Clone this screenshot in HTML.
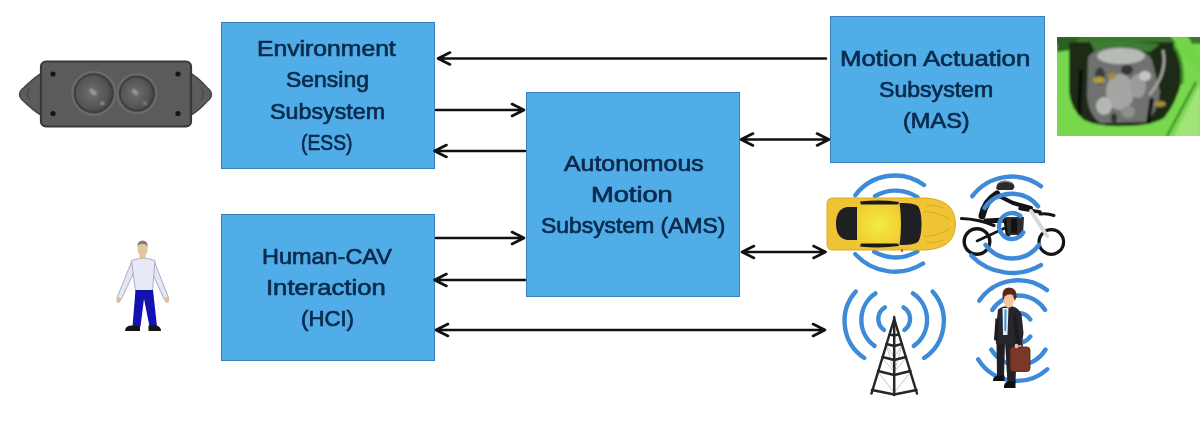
<!DOCTYPE html>
<html><head><meta charset="utf-8">
<style>
html,body{margin:0;padding:0;background:#fff;}
body{width:1200px;height:426px;position:relative;overflow:hidden;font-family:"Liberation Sans",sans-serif;}
.box{position:absolute;background:#50ade8;border:1px solid #3a80c0;box-sizing:border-box;}
.t{position:absolute;font-size:22.5px;line-height:22.5px;color:#0b2a4c;-webkit-text-stroke:0.7px #0b2a4c;white-space:nowrap;transform-origin:0 0;}
svg{position:absolute;left:0;top:0;}
</style></head><body>
<div class="box" style="left:221px;top:22px;width:214px;height:147px"></div>
<div class="box" style="left:221px;top:214px;width:214px;height:147px"></div>
<div class="box" style="left:526px;top:92px;width:214px;height:205px"></div>
<div class="box" style="left:830px;top:16px;width:215px;height:147px"></div>
<div class="t" style="left:256.6px;top:38px;transform:scaleX(1.0984)">Environment</div>
<div class="t" style="left:285.88px;top:69px;transform:scaleX(1.0203)">Sensing</div>
<div class="t" style="left:269.97px;top:101px;transform:scaleX(1.0339)">Subsystem</div>
<div class="t" style="left:301.14px;top:132px;transform:scaleX(0.8569)">(ESS)</div>
<div class="t" style="left:261.71px;top:246px;transform:scaleX(1.0426)">Human-CAV</div>
<div class="t" style="left:266.12px;top:277px;transform:scaleX(1.1392)">Interaction</div>
<div class="t" style="left:301.01px;top:308px;transform:scaleX(0.9863)">(HCI)</div>
<div class="t" style="left:563.6px;top:153px;transform:scaleX(1.1056)">Autonomous</div>
<div class="t" style="left:590.88px;top:184px;transform:scaleX(1.2109)">Motion</div>
<div class="t" style="left:540.58px;top:215px;transform:scaleX(1.0173)">Subsystem (AMS)</div>
<div class="t" style="left:839.91px;top:48px;transform:scaleX(1.1436)">Motion Actuation</div>
<div class="t" style="left:879.17px;top:79px;transform:scaleX(1.0257)">Subsystem</div>
<div class="t" style="left:903.15px;top:110px;transform:scaleX(1.0459)">(MAS)</div>
<svg width="1200" height="426" viewBox="0 0 1200 426">
<defs>
<filter id="soft" x="-5%" y="-5%" width="110%" height="110%"><feGaussianBlur stdDeviation="0.9"/></filter>
<radialGradient id="lens1" cx="0.45" cy="0.48" r="0.55"><stop offset="0" stop-color="#6e6e6e"/><stop offset="0.75" stop-color="#555"/><stop offset="1" stop-color="#424242"/></radialGradient>
<filter id="blur1" x="-50%" y="-50%" width="200%" height="200%"><feGaussianBlur stdDeviation="1.1"/></filter>
<radialGradient id="roof" cx="0.5" cy="0.5" r="0.6"><stop offset="0" stop-color="#f4ec40"/><stop offset="1" stop-color="#f0cc30"/></radialGradient>
<linearGradient id="eng" x1="0" y1="0" x2="1" y2="1"><stop offset="0" stop-color="#7fde5a"/><stop offset="1" stop-color="#5cc63c"/></linearGradient>
</defs>
<!-- ===== sensor ===== -->
<g>
<path d="M43 72.5C36 76 30 82 24 87.5Q19.5 91 19.5 94.5Q19.5 98 24 101.5C30 107 36 113 43 116Z" fill="#5c5c5c" stroke="#444" stroke-width="1.4" stroke-linejoin="round"/>
<path d="M189 72.5C196 76 202 82 207 87.5Q211.5 91 211.5 94.5Q211.5 98 207 101.5C202 107 196 113 189 116Z" fill="#5c5c5c" stroke="#444" stroke-width="1.4" stroke-linejoin="round"/>
<path d="M30 88Q25 94 30 100" stroke="#4c4c4c" stroke-width="1.5" fill="none"/>
<path d="M201 88Q206 94 201 100" stroke="#4c4c4c" stroke-width="1.5" fill="none"/>
<rect x="41" y="61.5" width="150" height="65" rx="5" fill="#5b5b5b" stroke="#383838" stroke-width="2.2"/>
<circle cx="93.8" cy="93.3" r="21.6" fill="none" stroke="#6a6a6a" stroke-width="2"/>
<circle cx="136.9" cy="93.6" r="19.6" fill="none" stroke="#6a6a6a" stroke-width="2"/>
<circle cx="93.8" cy="93.3" r="19" fill="url(#lens1)" stroke="#3c3c3c" stroke-width="1.6"/>
<circle cx="136.9" cy="93.6" r="17" fill="url(#lens1)" stroke="#3c3c3c" stroke-width="1.6"/>
<g filter="url(#blur1)" fill="#a0a0a0">
<ellipse cx="93" cy="92" rx="4.5" ry="2" transform="rotate(40 93 92)"/>
<circle cx="102.5" cy="103.3" r="1.8"/>
<ellipse cx="135" cy="92" rx="3.5" ry="1.8" transform="rotate(40 135 92)"/>
<circle cx="145" cy="103.3" r="1.5"/>
</g>
<circle cx="53" cy="74" r="2.6" fill="#151515"/>
<circle cx="178" cy="74" r="2.6" fill="#151515"/>
<circle cx="53" cy="113.5" r="2.6" fill="#151515"/>
<circle cx="178" cy="113.5" r="2.6" fill="#151515"/>
</g>
<!-- ===== person ===== -->
<g>
<path d="M131.5 262L117 297.5L121 300L135.5 269Z" fill="#e4e6f6" stroke="#9a9cb0" stroke-width="0.8"/>
<path d="M154.5 262L168.5 297.5L164.5 300L150.5 269Z" fill="#e4e6f6" stroke="#9a9cb0" stroke-width="0.8"/>
<path d="M131.5 260.5Q143 256 155 260.5L152.5 291H135.5Z" fill="#e8eaf8" stroke="#9a9cb0" stroke-width="0.8"/>
<ellipse cx="118.5" cy="300" rx="2.2" ry="3" fill="#dcc0a0"/>
<ellipse cx="167" cy="300" rx="2.2" ry="3" fill="#dcc0a0"/>
<rect x="139.5" y="253" width="6" height="6" fill="#dcc0a0"/>
<ellipse cx="142.6" cy="249.5" rx="5" ry="7" fill="#e2c49e"/>
<path d="M137.5 247Q137 240.5 142.6 240.5Q148 240.5 147.8 247Q146 243.5 142.6 244Q139 243.5 137.5 247Z" fill="#8c7c6a"/>
<path d="M135.5 290H153L157 326.5H149.5L144 299L140.5 326.5H132.5Z" fill="#1212b0"/>
<path d="M125 331Q125 326 131 325.5H140V331Z" fill="#151515"/>
<path d="M148.5 325.5H155.5Q161 326 161 331H148.5Z" fill="#151515"/>
</g>
<!-- ===== engine photo ===== -->
<clipPath id="engclip"><rect x="1057" y="37" width="143" height="99"/></clipPath>
<g clip-path="url(#engclip)"><g filter="url(#soft)">
<rect x="1050" y="30" width="160" height="115" fill="#78d84e"/>
<path d="M1174 136L1200 84V140Z" fill="#a2e47a"/>
<path d="M1050 30H1210V44H1050Z" fill="#3a7a2a"/>
<path d="M1057 37H1080L1070 50L1057 52Z" fill="#2c6020"/>
<path d="M1166 30L1210 90V74L1184 30Z" fill="#72d448"/>
<path d="M1069 42L1172 42Q1184 56 1182 80Q1176 104 1164 118Q1150 126 1124 126Q1098 127 1084 120Q1071 110 1069 92Z" fill="#1c2a18"/>
<path d="M1090 42Q1120 40 1160 44L1150 52Q1120 48 1095 52Z" fill="#3c7a30"/>
<path d="M1174 46Q1184 60 1182 84" stroke="#3f8f2c" stroke-width="3" fill="none"/>
<path d="M1088 58Q1092 48 1120 47Q1146 48 1152 60L1160 92Q1158 112 1146 122L1100 123Q1088 114 1087 96Z" fill="#707270"/>
<ellipse cx="1121" cy="56" rx="24" ry="8" fill="#b8bab8"/>
<ellipse cx="1120" cy="92" rx="14" ry="18" fill="#a4a6a4"/>
<ellipse cx="1138" cy="86" rx="8" ry="12" fill="#9a9c9a"/>
<ellipse cx="1104" cy="106" rx="8" ry="9" fill="#b6b8b6"/>
<ellipse cx="1145" cy="76" rx="6" ry="5" fill="#c4c6c4"/>
<ellipse cx="1128" cy="112" rx="7" ry="6" fill="#8e908e"/>
<ellipse cx="1100" cy="76" rx="5" ry="9" fill="#3a3c3a"/>
<ellipse cx="1127" cy="70" rx="6" ry="5" fill="#343634"/>
<ellipse cx="1114" cy="118" rx="3" ry="5" fill="#303230"/>
<ellipse cx="1099" cy="80" rx="6" ry="3.5" fill="#b09a40"/>
<ellipse cx="1112" cy="76" rx="4" ry="3" fill="#a48e38"/>
<ellipse cx="1160" cy="104" rx="6" ry="3" fill="#a28c3a"/>
<path d="M1163 50Q1168 74 1149 95" stroke="#a8aaa8" stroke-width="2.5" fill="none"/>
<path d="M1081 70L1079 114" stroke="#0c0c0c" stroke-width="4"/>
<path d="M1152 98L1148 124" stroke="#0c0c0c" stroke-width="4"/>
<path d="M1167 136L1196 82" stroke="#2f7a22" stroke-width="2" fill="none"/>
</g></g>
<!-- ===== car/man arcs ===== -->
<g stroke="#3d8bd8" stroke-width="4.4" fill="none" stroke-linecap="round">
<path d="M855.3 195.3A49.4 49.4 0 0 1 924.0 185.0 M875.0 196.2A40.2 40.2 0 0 1 917.4 197.1 M874.1 251.7A42.5 42.5 0 0 0 917.4 251.3 M855.3 254.1A53.1 53.1 0 0 0 923.0 263.5"/>
<path d="M979.4 300.6A47.2 47.2 0 0 1 1046.9 290.1 M992.3 310.0A31.3 31.3 0 0 1 1045.1 310.0 M978.2 359.4A45.6 45.6 0 0 0 1047.2 369.3 M991.3 349.6A31.5 31.5 0 0 0 1045.5 349.6 M1005.7 319.4A15 15 0 0 1 1030.3 319.4 M1005.7 336.6A15 15 0 0 0 1030.3 336.6"/>
</g>
<!-- ===== car ===== -->
<g>
<path d="M833 198H926Q945 199.5 951 208.5Q955.5 215 955.5 224Q955.5 233 951 239.5Q945 248.5 926 250H833Q827 250 827 244V204Q827 198 833 198Z" fill="#eec434" stroke="#dcaa22" stroke-width="1"/>
<path d="M858 204H899Q903 224 899 245H858Q855 224 858 204Z" fill="url(#roof)"/>
<path d="M857 207V240H847Q836 238 836 223.5Q836 209 847 207Z" fill="#1f2023"/>
<path d="M899.5 203Q913 202.5 918 206Q921.5 211 921.5 224Q921.5 237 918 242Q913 245.5 899.5 245Q902.5 224 899.5 203Z" fill="#1f2023"/>
<path d="M860 201.5Q880 199.5 899 202L898 204.5H861Z" fill="#1a1a1a"/>
<path d="M860 246.5Q880 248.5 899 246L898 243.5H861Z" fill="#1a1a1a"/>
<path d="M924 211Q938 212 950 219M924 237Q938 236 950 229M926 206Q935 204 944 208M926 242Q935 244 944 240" stroke="#d6a820" stroke-width="0.9" fill="none"/>
<rect x="901" y="249" width="2" height="3" fill="#e05020"/>
</g>
<!-- ===== motorbike ===== -->
<g fill="none" stroke="#141414" stroke-linecap="round" stroke-linejoin="round">
<circle cx="977" cy="241.5" r="12.8" stroke-width="3.4"/>
<circle cx="1051.3" cy="242" r="12.3" stroke-width="3.2"/>
<path d="M961.5 218.5Q978 219 994 225.5" stroke-width="3.2"/>
<path d="M1040 214Q1047 213 1054 215.5" stroke-width="3"/>
<path d="M977 241L1005 228" stroke-width="2.6"/>
<path d="M982 216Q985 201 997 194" stroke-width="7"/>
<path d="M999 196L1013 203L1031 208" stroke-width="4"/>
<path d="M1020 208.5L1040 212" stroke-width="3.5"/>
<path d="M986 221L1006 220L1008 234" stroke-width="5"/>
</g>
<path d="M1031 211L1047 236" stroke="#d8d8d8" stroke-width="4" stroke-linecap="round"/>
<path d="M996 188.5Q996.5 181 1005 180.5Q1014 181 1014.5 187.5L1012.5 190H998Z" fill="#2a2a2a"/>
<path d="M998.5 183Q1005 179.8 1012.5 183" stroke="#8a8a8a" stroke-width="1.3" fill="none"/>
<path d="M1006 217H1024L1023 235H1008Z" fill="#2e2e2e"/>
<path d="M1011 219H1017V233H1011Z" fill="#111"/>
<!-- ===== tower ===== -->
<g stroke="#b8b8b8" stroke-width="0.8" fill="none">
<path d="M886 344L894.2 357.5L902.5 344M882 357.5L894.2 372L906.5 357.5M877.5 371.5L894.2 392.5L911 371.5M886 344L894.2 372L902.5 344"/>
</g>
<g stroke="#262626" stroke-width="2.5" fill="none" stroke-linecap="round" stroke-linejoin="round">
<path d="M871.5 393.5L894.2 319L917 393.5"/>
<path d="M894.2 317V395"/>
<path d="M890 334.5L894.2 335.5L898.5 334.5"/>
<path d="M886.5 344L894.2 346L902 344"/>
<path d="M882.5 357L894.2 360L906 357"/>
<path d="M878 371L894.2 375L910.5 371"/>
<path d="M872 390L894.2 394.5L916.5 390"/>
</g>
<!-- ===== businessman ===== -->
<g>
<path d="M996.5 342L1005 342L1004 377H997Z" fill="#1e1e24"/>
<path d="M1005 342H1017L1015.5 383H1007.5Z" fill="#22222a"/>
<path d="M997 375.5H1004.5V381H993Q992.5 377 997 375.5Z" fill="#0e0e10"/>
<path d="M1007.5 381.5H1015.5V388H1004Q1003.5 383 1007.5 381.5Z" fill="#0e0e10"/>
<path d="M998 309.5Q1001 306.5 1006 306L1013 306.5Q1019 308 1021.5 314L1023.5 333L1022 344H996L995.5 332Z" fill="#26262c"/>
<path d="M1002.5 308H1008.5L1007.5 335H1003Z" fill="#e4eef6"/><path d="M1004.6 309.5H1006.6L1006.2 330L1005.2 332L1004.3 330Z" fill="#3f93d6"/>
<path d="M995.5 318L994 340L997.5 341L999 320Z" fill="#1c1c22"/>
<path d="M1016 314L1020.5 345L1016.5 346.5L1013 318Z" fill="#1c1c22"/>
<path d="M1010 350.5Q1010 347 1013 347H1027Q1030 347 1030 350.5V368Q1030 371.5 1027 371.5H1013Q1010 371.5 1010 368Z" fill="#7a3828" stroke="#4a2014" stroke-width="0.8"/>
<path d="M1015 347V344.5H1022V347" stroke="#3a1a10" stroke-width="1.5" fill="none"/>
<ellipse cx="1016.5" cy="346" rx="2" ry="2.2" fill="#e8bc94"/>
<ellipse cx="1008.5" cy="300.5" rx="5.3" ry="7.3" fill="#f0c69c"/>
<path d="M1002.5 297Q1001.5 288 1009 287.5Q1017.5 288 1016.5 297.5L1014.5 301L1013.5 295Q1009 293 1004.5 296.5L1003.8 300.5Z" fill="#5a2616"/>
</g>
<!-- ===== wave arcs ===== -->
<g stroke="#3d8bd8" stroke-width="4.4" fill="none" stroke-linecap="round">
<path d="M972.3 196.2A49.3 49.3 0 0 1 1041.0 186.3 M984.6 207.9A33.5 33.5 0 0 1 1038.1 206.4 M985.5 244.9A33.1 33.1 0 0 0 1039.0 244.9 M971.4 255.7A56.8 56.8 0 0 0 1040.9 265.1 M1020.4 216.0A13 13 0 1 0 1023.3 232.5"/>
<path d="M855.8 291.5A44.5 44.5 0 0 0 864.3 358.0 M932.6 291.5A44.5 44.5 0 0 1 924.1 358.0 M875.5 293.4A32.0 32.0 0 0 0 874.6 345.9 M912.9 293.4A32.0 32.0 0 0 1 913.8 345.9 M884.9 307.4A13.5 13.5 0 0 0 884.0 330.0 M903.5 307.4A13.5 13.5 0 0 1 904.4 330.0"/>
</g>
</svg>
<svg width="1200" height="426" viewBox="0 0 1200 426">
<g stroke="#111" stroke-width="2.6" fill="none" stroke-linecap="round" stroke-linejoin="round">
<path d="M826 58.5H438M450 52.5l-12 6 12 6"/>
<path d="M436 110H524M512 104l12 6-12 6"/>
<path d="M525 151H434.5M446.5 145l-12 6 12 6"/>
<path d="M436 238H524M512 232l12 6-12 6"/>
<path d="M525 280H434.5M446.5 274l-12 6 12 6"/>
<path d="M436 330H825M813 324l12 6-12 6M448 324l-12 6 12 6"/>
<path d="M741 139.5H829M753 133.5l-12 6 12 6M817 133.5l12 6-12 6"/>
<path d="M742 252H825.5M754 246l-12 6 12 6M813.5 246l12 6-12 6"/>
</g>
</svg>
</body></html>
